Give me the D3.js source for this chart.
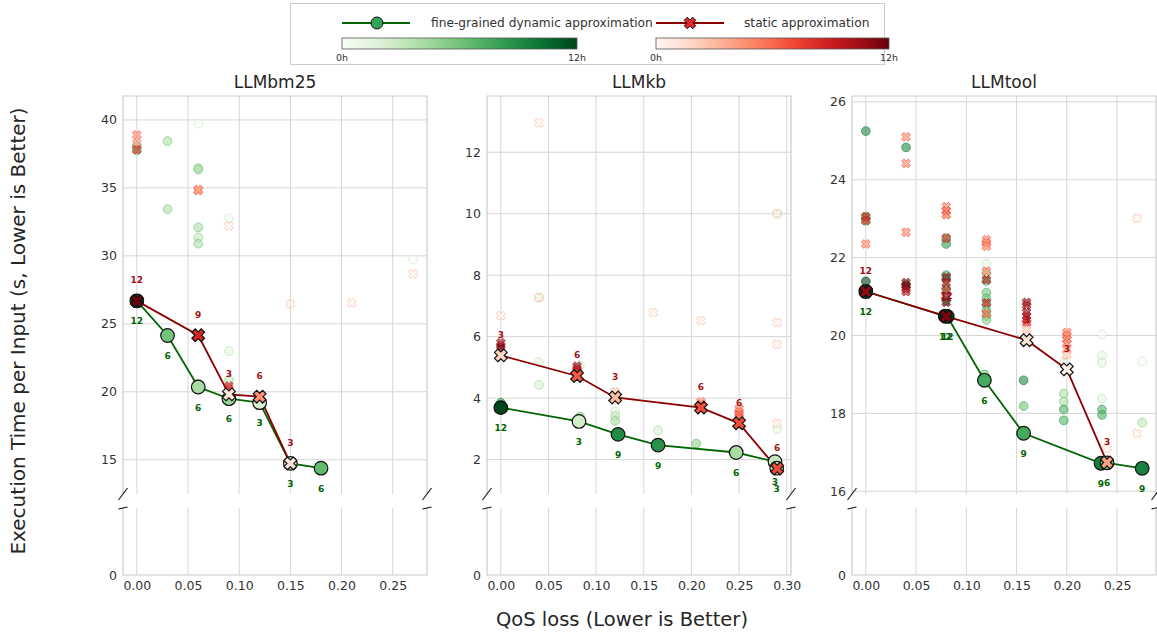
<!DOCTYPE html>
<html>
<head>
<meta charset="utf-8">
<script src="https://cdn.jsdelivr.net/npm/d3@7"></script>
<style>
body { margin: 0; background: #fff; font-family: "DejaVu Sans", sans-serif; }
.tick text { fill: #333; font-size: 12.5px; font-family: "DejaVu Sans", sans-serif; }
</style>
</head>
<body>
<svg id="chart" width="1157" height="634"></svg>
<script>
'use strict';

var panel_names = ['LLMbm25', 'LLMkb', 'LLMtool'];
var x_ticks = [
	[0, 0.05, 0.10, 0.15, 0.20, 0.25],
	[0, 0.05, 0.10, 0.15, 0.20, 0.25, 0.30],
	[0, 0.05, 0.10, 0.15, 0.20, 0.25]
];
var y_ticks = [
	[15, 20, 25, 30, 35, 40],
	[2, 4, 6, 8, 10, 12],
	[16, 18, 20, 22, 24, 26]
];
var x_domains = [[-0.0135, 0.2835], [-0.0145, 0.3045], [-0.01375, 0.28875]];
var y_domains = [[12.48, 41.76], [0.88, 13.83], [15.93, 26.15]];

// main fronts: [qos loss, seconds, hours (colour), label]
var bm25_dynamic = [[0, 26.69, 12, 12], [0.03, 24.14, 6, 6], [0.06, 20.35, 4.2, 6], [0.09, 19.49, 4.8, 6],
	[0.12, 19.2, 2, 3], [0.15, 14.73, 2, 3], [0.18, 14.38, 6.5, 6]];
var bm25_static = [[0, 26.69, 12, 12], [0.06, 24.16, 8.5, 9], [0.09, 19.81, 1, 3], [0.12, 19.64, 4.5, 6],
	[0.15, 14.73, 1, 3]];
var kb_dynamic = [[0, 3.69, 12, 12], [0.082, 3.24, 2.5, 3], [0.123, 2.82, 9, 9], [0.165, 2.47, 8.7, 9],
	[0.247, 2.23, 4.2, 6], [0.2877, 1.93, 3, 3], [0.2895, 1.72, 3, 3]];
var kb_static = [[0, 5.39, 2, 3], [0.08, 4.72, 6.5, 6], [0.12, 4.02, 3, 3], [0.21, 3.69, 7, 6],
	[0.25, 3.18, 7, 6], [0.29, 1.71, 7, 6]];
var tool_dynamic = [[0, 21.13, 12, 12], [0.079, 20.5, 12, 12], [0.081, 20.49, 12, 12], [0.118, 18.85, 7.5, 6],
	[0.157, 17.49, 7.5, 9], [0.234, 16.72, 9.5, 9], [0.24, 16.73, 6, 6], [0.275, 16.59, 9.5, 9]];
var tool_static = [[0, 21.13, 11, 12], [0.08, 20.49, 11.5, 12], [0.16, 19.88, 1, 3], [0.2, 19.13, 0.3, 3],
	[0.24, 16.74, 4, 3]];

// every other configuration tried: [qos loss, seconds, hours]
var bm25_dynamic_runs = [[0, 38.1, 5], [0, 37.8, 6], [0.03, 38.44, 4], [0.03, 33.44, 4], [0.06, 39.73, 0],
	[0.06, 36.45, 4], [0.06, 36.35, 4], [0.06, 32.1, 4], [0.06, 31.36, 3], [0.06, 30.9, 4], [0.09, 32.78, 0],
	[0.09, 22.99, 1], [0.09, 20.86, 3], [0.06, 20.6, 3], [0.12, 19.6, 2], [0.27, 29.74, 0], [0.15, 14.9, 2]];
var bm25_static_runs = [[0, 38.9, 5], [0, 38.3, 4], [0, 37.8, 8], [0.06, 34.8, 5], [0.06, 34.9, 4],
	[0.09, 32.2, 0], [0.15, 26.47, 0], [0.21, 26.54, 0], [0.27, 28.67, 0], [0.09, 20.42, 9], [0.09, 20.2, 8]];
var kb_dynamic_runs = [[0, 3.85, 8], [0.04, 5.17, 1], [0.04, 4.43, 2], [0.04, 7.27, 1], [0.083, 5.07, 1],
	[0.083, 3.4, 5], [0.12, 3.56, 1], [0.12, 3.42, 3], [0.12, 3.26, 4], [0.165, 2.95, 2], [0.205, 2.52, 5],
	[0.29, 3.0, 1], [0.29, 10.0, 1], [0.29, 1.8, 3]];
var kb_static_runs = [[0.04, 12.96, 0], [0.04, 7.27, 0], [0, 6.68, 0], [0.16, 6.78, 0], [0.21, 6.52, 0],
	[0.29, 10.0, 0], [0.29, 6.46, 0], [0.29, 5.75, 0], [0.29, 3.18, 0], [0, 5.8, 11], [0, 5.7, 10],
	[0, 5.62, 12], [0.08, 5.04, 11], [0.08, 4.95, 10], [0.08, 4.88, 9], [0.12, 4.2, 2], [0.21, 3.88, 4],
	[0.21, 3.8, 5], [0.25, 3.65, 5], [0.25, 3.55, 5], [0.25, 3.45, 6], [0.25, 3.35, 6], [0.29, 1.85, 5]];
var tool_dynamic_runs = [[0, 25.25, 9], [0, 23.05, 7], [0, 22.95, 7], [0, 21.39, 12], [0.04, 24.83, 9],
	[0.04, 21.3, 8], [0.08, 22.35, 8], [0.08, 22.5, 7], [0.08, 21.55, 7], [0.08, 21.45, 7], [0.08, 21.2, 7],
	[0.08, 20.9, 7], [0.12, 21.84, 1], [0.12, 21.6, 4], [0.12, 21.4, 6], [0.12, 21.1, 6], [0.12, 20.95, 6],
	[0.12, 20.8, 6], [0.12, 20.65, 6], [0.12, 20.5, 5], [0.12, 20.4, 5], [0.118, 19.0, 6], [0.157, 20.83, 0],
	[0.157, 18.85, 9], [0.157, 18.19, 6], [0.197, 19.3, 1], [0.197, 18.51, 4], [0.197, 18.3, 4],
	[0.197, 18.1, 7], [0.197, 17.82, 7], [0.235, 20.03, 0], [0.235, 19.49, 1], [0.235, 19.3, 1],
	[0.235, 18.38, 1], [0.235, 18.1, 7], [0.235, 17.96, 7], [0.275, 19.33, 0], [0.275, 17.76, 3]];
var tool_static_runs = [[0, 23.05, 9], [0, 22.95, 8], [0, 22.35, 5], [0.04, 25.1, 5], [0.04, 24.42, 5],
	[0.04, 22.65, 5], [0.04, 21.36, 11], [0.04, 21.28, 12], [0.04, 21.2, 11], [0.04, 21.13, 10],
	[0.08, 23.31, 5], [0.08, 23.2, 6], [0.08, 23.1, 6], [0.08, 22.5, 8], [0.08, 21.5, 11], [0.08, 21.35, 10],
	[0.08, 21.15, 9], [0.08, 21.0, 11], [0.08, 20.85, 12], [0.12, 22.46, 5], [0.12, 22.38, 5],
	[0.12, 22.29, 5], [0.12, 21.65, 5], [0.12, 21.43, 10], [0.12, 20.84, 9], [0.12, 20.56, 6],
	[0.16, 20.85, 11], [0.16, 20.78, 10], [0.16, 20.6, 11], [0.16, 20.5, 10], [0.16, 20.4, 9],
	[0.16, 20.33, 8], [0.16, 20.15, 2], [0.2, 20.08, 5], [0.2, 20.0, 5], [0.2, 19.9, 5], [0.2, 19.8, 5],
	[0.2, 19.65, 4], [0.2, 19.5, 2], [0.27, 23.01, 0], [0.27, 17.49, 0], [0.24, 17.1, 0]];

var legend_labels = ['fine-grained dynamic approximation', 'static approximation'];
var colourbar_ticks = ['0h', '12h'];

var dynamic_sets = [bm25_dynamic, kb_dynamic, tool_dynamic];
var static_sets = [bm25_static, kb_static, tool_static];
var dynamic_run_sets = [bm25_dynamic_runs, kb_dynamic_runs, tool_dynamic_runs];
var static_run_sets = [bm25_static_runs, kb_static_runs, tool_static_runs];

var panel_left = [123, 487, 852];
var panel_width = 304;
var upper_top = 96, upper_bottom = 494, lower_top = 508, lower_bottom = 575;
var grid_col = '#d6d6d6';

var svg = d3.select('#chart');

// filled matplotlib-style 'X' marker
function xPath(s, w) {
	var pts = [[w, s], [w, w], [s, w], [s, -w], [w, -w], [w, -s], [-w, -s], [-w, -w], [-s, -w], [-s, w], [-w, w], [-w, s]];
	var c = Math.SQRT1_2;
	return 'M' + pts.map(function(p) { return [(p[0] - p[1]) * c, (p[0] + p[1]) * c].join(','); }).join('L') + 'Z';
}

var greens = function(h) { return d3.interpolateGreens(h / 12); };
var reds = function(h) { return d3.interpolateReds(h / 12); };

panel_names.forEach(function(name, i) { drawPanel(i); });
drawLegend();

// axis titles
svg.append('text')
	.attr('transform', 'translate(19,331) rotate(-90)')
	.attr('text-anchor', 'middle').attr('dominant-baseline', 'middle')
	.style('font-size', '20px').style('fill', '#262626')
	.text('Execution Time per Input (s, Lower is Better)');
svg.append('text')
	.attr('x', 622).attr('y', 620)
	.attr('text-anchor', 'middle').attr('dominant-baseline', 'middle')
	.style('font-size', '19.5px').style('fill', '#262626')
	.text('QoS loss (Lower is Better)');


function drawPanel(i) {
	var left = panel_left[i], right = left + panel_width;
	var g = svg.append('g');
	var x = d3.scaleLinear().domain(x_domains[i]).range([left, right]);
	var y = d3.scaleLinear().domain(y_domains[i]).range([upper_bottom, upper_top]);
	var y_low = d3.scaleLinear().domain([0, 1]).range([lower_bottom, lower_top]);

	// grid lines
	g.selectAll('line.vgrid-up').data(x_ticks[i]).enter().append('line')
		.attr('x1', x).attr('x2', x).attr('y1', upper_top).attr('y2', upper_bottom)
		.attr('stroke', grid_col);
	g.selectAll('line.vgrid-low').data(x_ticks[i]).enter().append('line')
		.attr('x1', x).attr('x2', x).attr('y1', lower_top).attr('y2', lower_bottom)
		.attr('stroke', grid_col);
	g.selectAll('line.hgrid').data(y_ticks[i]).enter().append('line')
		.attr('x1', left).attr('x2', right).attr('y1', y).attr('y2', y)
		.attr('stroke', grid_col);

	// spines (upper has no bottom, lower has no top)
	g.append('path').attr('d', 'M' + left + ',' + upper_bottom + 'V' + upper_top + 'H' + right + 'V' + upper_bottom)
		.attr('fill', 'none').attr('stroke', '#cccccc').attr('stroke-width', 1.2);
	g.append('path').attr('d', 'M' + left + ',' + lower_top + 'V' + lower_bottom + 'H' + right + 'V' + lower_top)
		.attr('fill', 'none').attr('stroke', '#cccccc').attr('stroke-width', 1.2);

	// tick labels
	var ax_y = g.append('g').attr('transform', 'translate(' + left + ',0)')
		.call(d3.axisLeft(y).tickValues(y_ticks[i]).tickSize(0).tickPadding(6));
	var ax_y0 = g.append('g').attr('transform', 'translate(' + left + ',0)')
		.call(d3.axisLeft(y_low).tickValues([0]).tickFormat(d3.format('d')).tickSize(0).tickPadding(6));
	var ax_x = g.append('g').attr('transform', 'translate(0,' + lower_bottom + ')')
		.call(d3.axisBottom(x).tickValues(x_ticks[i]).tickFormat(d3.format('.2f')).tickSize(0).tickPadding(6));
	[ax_y, ax_y0, ax_x].forEach(function(a) { a.select('.domain').remove(); });

	// broken axis marks
	var dx = 4.5, dy_up = 6, dy_low = 1;
	[left, right].forEach(function(px) {
		g.append('line').attr('x1', px - dx).attr('y1', upper_bottom + dy_up)
			.attr('x2', px + dx).attr('y2', upper_bottom - dy_up)
			.attr('stroke', '#111').attr('stroke-width', 1.1);
		g.append('line').attr('x1', px - dx).attr('y1', lower_top + dy_low)
			.attr('x2', px + dx).attr('y2', lower_top - dy_low)
			.attr('stroke', '#111').attr('stroke-width', 1.1);
	});

	// title
	g.append('text').attr('x', (left + right) / 2).attr('y', 83)
		.attr('text-anchor', 'middle').attr('dominant-baseline', 'middle')
		.style('font-size', '17px').style('fill', '#262626')
		.text(panel_names[i]);

	// all runs, faded
	g.selectAll('circle.run').data(dynamic_run_sets[i]).enter().append('circle')
		.attr('cx', function(d) { return x(d[0]); })
		.attr('cy', function(d) { return y(d[1]); })
		.attr('r', 4.4)
		.attr('fill', function(d) { return greens(d[2]); })
		.attr('fill-opacity', 0.6)
		.attr('stroke', function(d) { return d3.interpolateGreens(0.25 + 0.75 * d[2] / 12); })
		.attr('stroke-opacity', 0.6);
	g.selectAll('path.run').data(static_run_sets[i]).enter().append('path')
		.attr('d', xPath(4.6, 1.7))
		.attr('transform', function(d) { return 'translate(' + x(d[0]) + ',' + y(d[1]) + ')'; })
		.attr('fill', function(d) { return reds(d[2]); })
		.attr('fill-opacity', 0.6)
		.attr('stroke', function(d) { return d3.interpolateReds(0.3 + 0.7 * d[2] / 12); })
		.attr('stroke-opacity', 0.6);

	// fronts
	var line = d3.line().x(function(d) { return x(d[0]); }).y(function(d) { return y(d[1]); });
	g.append('path').datum(dynamic_sets[i]).attr('d', line)
		.attr('fill', 'none').attr('stroke', '#006400').attr('stroke-width', 1.8);
	g.append('path').datum(static_sets[i]).attr('d', line)
		.attr('fill', 'none').attr('stroke', '#8b0000').attr('stroke-width', 1.8);

	g.selectAll('circle.front').data(dynamic_sets[i]).enter().append('circle')
		.attr('cx', function(d) { return x(d[0]); })
		.attr('cy', function(d) { return y(d[1]); })
		.attr('r', 6.8)
		.attr('fill', function(d) { return greens(d[2]); })
		.attr('stroke', '#111').attr('stroke-width', 1.2);
	g.selectAll('path.front').data(static_sets[i]).enter().append('path')
		.attr('d', xPath(6.6, 2.4))
		.attr('transform', function(d) { return 'translate(' + x(d[0]) + ',' + y(d[1]) + ')'; })
		.attr('fill', function(d) { return reds(d[2]); })
		.attr('stroke', '#111').attr('stroke-width', 1.2);

	// hour labels: green below, red above
	g.selectAll('text.dlab').data(dynamic_sets[i]).enter().append('text')
		.attr('x', function(d) { return x(d[0]); })
		.attr('y', function(d) { return y(d[1]) + 21; })
		.attr('text-anchor', 'middle').attr('dominant-baseline', 'middle')
		.style('font-size', '9px').style('font-weight', 'bold').style('fill', '#006400')
		.text(function(d) { return d[3]; });
	g.selectAll('text.slab').data(static_sets[i]).enter().append('text')
		.attr('x', function(d) { return x(d[0]); })
		.attr('y', function(d) { return y(d[1]) - 20; })
		.attr('text-anchor', 'middle').attr('dominant-baseline', 'middle')
		.style('font-size', '9px').style('font-weight', 'bold').style('fill', '#a50f15')
		.text(function(d) { return d[3]; });
}


function drawLegend() {
	var lg = svg.append('g');
	lg.append('rect').attr('x', 290.5).attr('y', 3.5).attr('width', 594).attr('height', 61)
		.attr('fill', '#fff').attr('stroke', '#cccccc');

	var items = [
		{ x0: 342, x1: 410, mx: 377, tx: 431, col: '#006400', kind: 'circle' },
		{ x0: 656, x1: 724, mx: 690, tx: 744, col: '#8b0000', kind: 'x' }
	];
	items.forEach(function(it, k) {
		lg.append('line').attr('x1', it.x0).attr('x2', it.x1).attr('y1', 23).attr('y2', 23)
			.attr('stroke', it.col).attr('stroke-width', 2);
		if (it.kind === 'circle') {
			lg.append('circle').attr('cx', it.mx).attr('cy', 23).attr('r', 6)
				.attr('fill', '#31a354').attr('stroke', '#111').attr('stroke-width', 1);
		} else {
			lg.append('path').attr('d', xPath(6, 2.2)).attr('transform', 'translate(' + it.mx + ',23)')
				.attr('fill', '#e3262b').attr('stroke', '#111').attr('stroke-width', 1);
		}
		lg.append('text').attr('x', it.tx).attr('y', 23).attr('dominant-baseline', 'middle')
			.style('font-size', '12.2px').style('fill', '#333')
			.text(legend_labels[k]);
	});

	// colour bars
	var defs = svg.append('defs');
	var bars = [
		{ id: 'gradG', x0: 342, x1: 577, interp: d3.interpolateGreens },
		{ id: 'gradR', x0: 656, x1: 889, interp: d3.interpolateReds }
	];
	bars.forEach(function(b) {
		var grad = defs.append('linearGradient').attr('id', b.id);
		d3.range(0, 1.0001, 0.1).forEach(function(t) {
			grad.append('stop').attr('offset', t).attr('stop-color', b.interp(t));
		});
		lg.append('rect').attr('x', b.x0).attr('y', 38).attr('width', b.x1 - b.x0).attr('height', 11)
			.attr('fill', 'url(#' + b.id + ')').attr('stroke', '#555').attr('stroke-width', 0.8);
		[b.x0, b.x1].forEach(function(px, k) {
			lg.append('text').attr('x', px).attr('y', 58).attr('text-anchor', 'middle')
				.attr('dominant-baseline', 'middle')
				.style('font-size', '9.5px').style('fill', '#333')
				.text(colourbar_ticks[k]);
		});
	});
}
</script>
</body>
</html>
